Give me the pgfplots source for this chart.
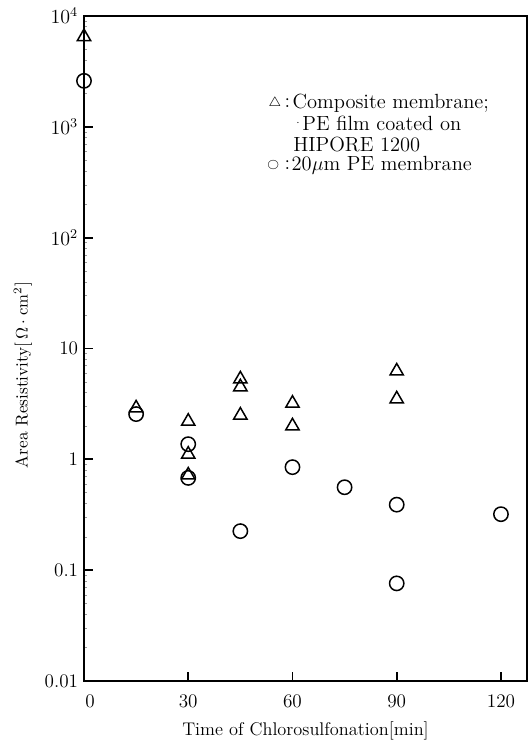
\documentclass[border=0pt]{standalone}
\usepackage{pgfplots}
\pgfplotsset{compat=1.18}
\begin{document}
\begin{tikzpicture}
\begin{axis}[
  scale only axis, width=265.8pt, height=399pt,
  xmin=0, xmax=127.5,
  ymode=log, ymin=0.01, ymax=10000,
  clip=false,
  axis line style={line width=1.1pt},
  tick align=inside, xtick pos=bottom, ytick pos=left,
  major tick length=5.5pt, minor tick length=2pt,
  every major tick/.style={black, line width=1.1pt},
  every minor tick/.style={black!40, line width=0.3pt},
  xtick={0,30,60,90,120},
  xticklabels={{\hbox to 0pt{\hskip0.85pt 0\hss}},30,60,90,120},
  ytick={0.01,0.1,1,10,100,1000,10000},
  yticklabels={0.01,0.1,1,10,$10^2$,$10^3$,$10^4$},
  tick label style={font=\fontsize{11.5}{13}\selectfont},
  xticklabel style={yshift=-4.5pt},
  xlabel={Time of Chlorosulfonation[min]},
  xlabel style={font=\fontsize{11}{13}\selectfont, at={(axis description cs:0.5,0)}, anchor=base, yshift=-32.5pt},
  ylabel={Area Resistivity[\,$\Omega\cdot\mathrm{cm}^2$]},
  ylabel style={font=\fontsize{10.3}{12}\selectfont, at={(axis description cs:-0.138,0.46)}, anchor=center},
]
\addplot[only marks, mark=triangle, mark size=4.6pt, mark options={black, line width=0.9pt, fill=none}]
coordinates {
(0,6500) (15,2.9) (30,2.2) (30,1.11) (30,0.72)
(45,5.3) (45,4.5) (45,2.5) (60,3.2) (60,2.0)
(90,6.25) (90,3.5)
};
\addplot[only marks, mark=o, mark size=4.3pt, mark options={black, line width=0.9pt, fill=none}]
coordinates {
(0,2600) (15,2.56) (30,1.37) (30,0.68) (45,0.225)
(60,0.85) (75,0.56) (90,0.39) (90,0.076) (120,0.32)
};
\begin{scope}[every node/.style={font=\fontsize{12.3}{14}\selectfont, inner sep=0pt}]
\node[anchor=center] at (rel axis cs:0.431,0.869) {\fontsize{8}{8}\selectfont$\triangle$};
\node[anchor=center] at (rel axis cs:0.459,0.869) {:};
\node[anchor=west] at (rel axis cs:0.470,0.869) {Composite membrane;};
\node[anchor=west] at (rel axis cs:0.478,0.838) {\raisebox{3.5pt}{\fontsize{6}{6}\selectfont$\cdot$}\hspace{1.5pt}PE film coated on};
\node[anchor=west] at (rel axis cs:0.472,0.807) {HIPORE 1200};
\node[anchor=center] at (rel axis cs:0.427,0.776) {\fontsize{6.5}{6.5}\selectfont$\bigcirc$};
\node[anchor=center] at (rel axis cs:0.459,0.776) {:};
\node[anchor=west] at (rel axis cs:0.468,0.776) {20$\mu$m PE membrane};
\end{scope}
\end{axis}
\pgfresetboundingbox
\path[use as bounding box] ([xshift=-50.4pt,yshift=-35.4pt]current axis.south west) rectangle ([xshift=1.2pt,yshift=9.6pt]current axis.north east);
\end{tikzpicture}
\end{document}
